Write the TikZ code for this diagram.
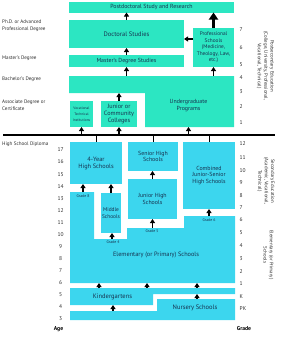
\documentclass[tikz,border=0pt]{standalone}
\usepackage{fontspec}
\setmainfont{PT Sans}
\usetikzlibrary{arrows.meta}
\definecolor{mint}{HTML}{2CE6C2}
\definecolor{sky}{HTML}{3CD6EE}
\definecolor{boxtext}{HTML}{17324F}
\definecolor{labtext}{HTML}{2E2E2E}
\begin{document}
\begin{tikzpicture}[x=1pt,y=-1pt,
  pbox/.style={fill=mint, inner sep=0pt, outer sep=0pt, anchor=north west, align=center, text=boxtext, font=\fontsize{5.9}{6.6}\selectfont},
  sbox/.style={pbox, fill=sky},
  frame/.style={inner sep=0pt, outer sep=0pt, anchor=north west},
  btext/.style={inner sep=0pt, align=center, text=boxtext, font=\fontsize{5.9}{6.6}\selectfont},
  gtext/.style={inner sep=0pt, text=boxtext, font=\fontsize{3.9}{4.5}\selectfont},
  arr/.style={-{Triangle[length=4pt,width=5pt]}, line width=1.4pt, black},
  bigarr/.style={-{Triangle[length=7pt,width=9pt]}, line width=2.6pt, black},
  lab/.style={anchor=west, align=left, inner sep=0pt, text=labtext, font=\fontsize{5.1}{6.8}\selectfont},
  num/.style={inner sep=0pt, text=labtext, font=\fontsize{5.5}{6}\selectfont},
  side/.style={rotate=-90, align=center, inner sep=0pt, text=labtext, font=\fontsize{4.9}{6.4}\selectfont}
]
\useasboundingbox (0,0) rectangle (281,340);

% ---------- Postsecondary ----------
\node[pbox, minimum width=165pt, minimum height=10.5pt] (postdoc) at (69,2) {Postdoctoral Study and Research};
\node[pbox, minimum width=115pt, minimum height=28pt, font=\fontsize{6.5}{7}\selectfont] (doct) at (69,20) {Doctoral Studies};
\node[pbox, minimum width=115pt, minimum height=12pt] (master) at (69,55) {Master's Degree Studies};
\node[pbox, minimum width=41pt, minimum height=39pt, font=\fontsize{5.3}{6.5}\selectfont] (prof) at (193,28) {Professional\\Schools\\(Medicine,\\Theology, Law,\\etc.)};

\fill[mint] (69,76) -- (234,76) -- (234,127) -- (145,127) -- (145,93) -- (69,93) -- cycle;
\node[frame, minimum width=165pt, minimum height=51pt] (under) at (69,76) {};
\coordinate (understep) at (69,93);
\node[btext] (undertext) at (188.5,105.5) {Undergraduate\\Programs};

\node[pbox, minimum width=23pt, minimum height=26pt, font=\fontsize{3.6}{6}\selectfont] (voc) at (70,101) {Vocational\\Technical\\Institutions};
\node[pbox, minimum width=36pt, minimum height=26pt, font=\fontsize{6.2}{6.8}\selectfont] (jcc) at (101,101) {Junior or\\Community\\Colleges};

% ---------- High school diploma line ----------
\coordinate (hsl) at (3,134.6);
\coordinate (hsr) at (275,134.6);
\draw[line width=2.2pt] (hsl) -- (hsr);

% ---------- Secondary ----------
\node[sbox, minimum width=52pt, minimum height=42pt, font=\fontsize{6.3}{7}\selectfont] (four) at (70,142) {4-Year\\High Schools};
\node[sbox, minimum width=50pt, minimum height=29pt] (senior) at (128,142) {Senior High\\Schools};
\node[sbox, minimum width=49pt, minimum height=40pt] (junior) at (128,179) {Junior High\\Schools};
\node[sbox, minimum width=52pt, minimum height=67pt] (comb) at (183,142) {Combined\\Junior-Senior\\High Schools};
\node[sbox, minimum width=20pt, minimum height=40pt, font=\fontsize{5.4}{6.4}\selectfont] (middle) at (101,193) {Middle\\Schools};

\draw[line width=0.9pt] (hsl -| four.north) -- (four.north);
\draw[line width=0.9pt] (hsl -| senior.north) -- (senior.north);
\draw[line width=0.9pt] (hsl -| comb.north) -- (comb.north);

% ---------- Elementary ----------
\fill[sky] (70,192) -- (94,192) -- (94,239) -- (127,239) -- (127,228) -- (184,228) -- (184,216) -- (235,216) -- (235,283) -- (70,283) -- cycle;
\coordinate (elembot) at (70,283);
\node[btext, font=\fontsize{6.3}{7}\selectfont] (elemtext) at (156,255) {Elementary (or Primary) Schools};
\node[gtext] (g8t) at (83,196) {Grade 8};
\node[gtext] (g4t) at (113,242.5) {Grade 4};
\node[gtext] (g5t) at (152,231.5) {Grade 5};
\node[gtext] (g6t) at (209,220) {Grade 6};
\coordinate (g8) at (83,192);
\coordinate (g4) at (112,239);
\coordinate (g5) at (152.5,228);
\coordinate (g6) at (209,216);

% ---------- Kindergarten & Nursery ----------
\fill[sky] (70,288) -- (235,288) -- (235,294) -- (153,294) -- (153,305) -- (70,305) -- cycle;
\node[btext, font=\fontsize{6.5}{7}\selectfont] (kinder) at (112.5,297) {Kindergartens};
\coordinate (kstep) at (153,294);
\coordinate (kbot) at (70,305);
\fill[sky] (157,299) -- (235,299) -- (235,320) -- (70,320) -- (70,311) -- (157,311) -- cycle;
\node[btext, font=\fontsize{6.5}{7}\selectfont] (nursery) at (195,308) {Nursery Schools};
\coordinate (k1) at (99,288);
\coordinate (k2) at (147,288);
\coordinate (k3) at (197,288);
\coordinate (n1) at (197,299);
\coordinate (n2) at (113,311);
\coordinate (profarrow) at (193,39);

% ---------- Arrows ----------
\draw[arr] (doct.north) -- (doct.north |- postdoc.south);
\draw[arr] (master.north) -- (doct.south);
\draw[arr] (master.south |- under.north) -- (master.south);
\draw[arr] (jcc.north) -- (jcc.north |- understep);
\draw[arr] (voc.south |- hsl) -- (voc.south);
\draw[arr] (jcc.south |- hsl) -- (jcc.south);
\draw[arr] (undertext |- hsl) -- (undertext |- under.south);
\draw[arr] (prof.south |- under.north) -- (prof.south);
\draw[bigarr] (prof.north) -- (prof.north |- postdoc.south);
\draw[arr] (profarrow) -- (profarrow -| doct.east);
\draw[arr] (g8) -- (g8 |- four.south);
\draw[arr] (middle.north) -- (middle.north |- four.south);
\draw[arr] (g4) -- (g4 |- middle.south);
\draw[arr] (junior.north) -- (junior.north |- senior.south);
\draw[arr] (g5) -- (g5 |- junior.south);
\draw[arr] (g6) -- (g6 |- comb.south);
\draw[arr] (k1) -- (k1 |- elembot);
\draw[arr] (k2) -- (k2 |- elembot);
\draw[arr] (k3) -- (k3 |- elembot);
\draw[arr] (n1) -- (n1 |- kstep);
\draw[arr] (n2) -- (n2 |- kbot);

% ---------- Left labels ----------
\node[lab] (phd) at (2,25.5) {Ph.D. or Advanced\\Professional Degree};
\node[lab] (msd) at (2,58) {Master's Degree};
\node[lab] (bad) at (2,79) {Bachelor's Degree};
\node[lab] (asd) at (2,105.5) {Associate Degree or\\Certificate};
\node[lab] (hsd) at (2,144) {High School Diploma};

% ---------- Ages ----------
\foreach \a in {3,...,17} {
  \node[num] (age\a) at (60.5,{150+(17-\a)*12.07}) {\a};
}
\node[num, font=\bfseries\fontsize{5.7}{6}\selectfont, text=black] (agehead) at (58.5,329) {Age};

% ---------- Grades ----------
\foreach \t/\yy [count=\i] in {7/30,6/47.7,5/64.3,4/77.3,3/91.7,2/106.7,1/122.3,12/144,11/158,10/170.5,9/183,8/196,7/208,6/220,5/233,4/246,3/259,2/272,1/284,K/297,PK/309} {
  \node[num, anchor=west] (grade\i) at (239.5,\yy) {\t};
}
\node[num, font=\bfseries\fontsize{5.7}{6}\selectfont, text=black] (gradehead) at (244,329) {Grade};

% ---------- Side labels ----------
\node[side] (postsec) at (265.5,66) {Postsecondary Education\\(College, University, Professional,\\Vocational, Technical)};
\node[side] (secsec) at (266,181) {Secondary Education\\(Academic, Vocational,\\Technical)};
\node[side] (elemsec) at (268.5,255) {Elementary (or Primary)\\Schools};
\end{tikzpicture}
\end{document}
